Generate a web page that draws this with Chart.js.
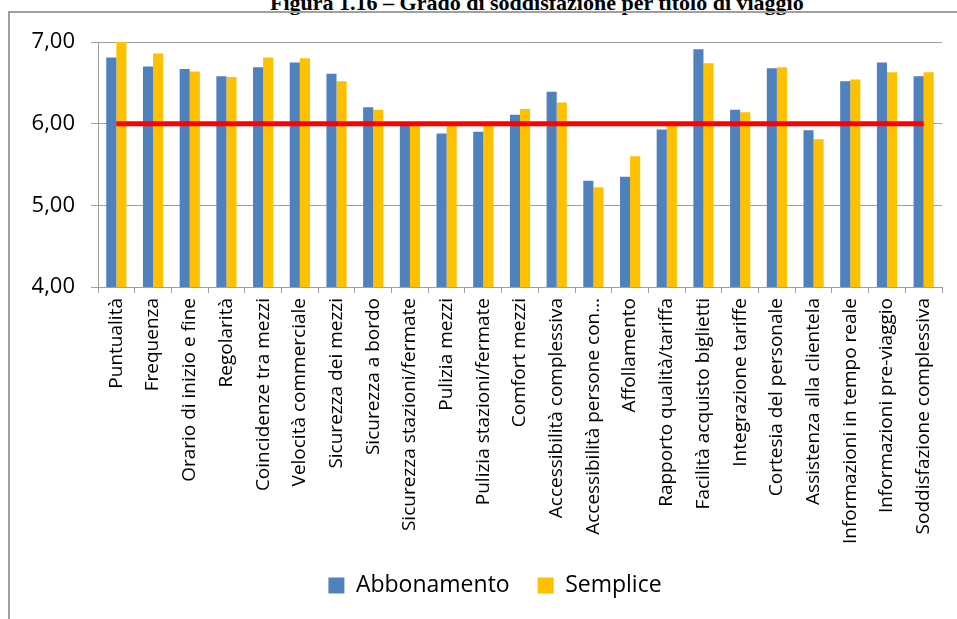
<!DOCTYPE html>
<html lang="it">
<head>
<meta charset="utf-8">
<title>Grado di soddisfazione per titolo di viaggio</title>
<script src="https://cdn.jsdelivr.net/npm/chart.js@4.4.1/dist/chart.umd.min.js"></script>
<style>
  html, body { margin: 0; padding: 0; background: #fff; overflow: hidden; }
  #pagina { position: relative; width: 957px; height: 619px; }
  #titolo {
    position: absolute; left: 270px; top: -8px; white-space: nowrap;
    font: bold 22px "Liberation Serif", "Times New Roman", serif; line-height: 22px; color: #000;
  }
  #cornice {
    position: absolute; left: 8px; top: 11px; width: 1000px; height: 700px;
    border: 2px solid #a0a0a0; box-sizing: border-box;
  }
  #grafico { position: absolute; left: 0; top: 0; }
</style>
</head>
<body>
<div id="pagina">
  <div id="titolo">Figura 1.16 – Grado di soddisfazione per titolo di viaggio</div>
  <div id="cornice"></div>
  <canvas id="grafico" width="957" height="619"></canvas>
</div>
<script>
// ── Dati ──
const categorie = [
  "Puntualità", "Frequenza", "Orario di inizio e fine", "Regolarità",
  "Coincidenze tra mezzi", "Velocità commerciale", "Sicurezza dei mezzi",
  "Sicurezza a bordo", "Sicurezza stazioni/fermate", "Pulizia mezzi",
  "Pulizia stazioni/fermate", "Comfort mezzi", "Accessibilità complessiva",
  "Accessibilità persone con…", "Affollamento", "Rapporto qualità/tariffa",
  "Facilità acquisto biglietti", "Integrazione tariffe", "Cortesia del personale",
  "Assistenza alla clientela", "Informazioni in tempo reale",
  "Informazioni pre-viaggio", "Soddisfazione complessiva"
];
const abbonamento = [
  6.81, 6.70, 6.67, 6.58, 6.69, 6.75, 6.61, 6.20, 5.99, 5.88, 5.90, 6.11,
  6.39, 5.30, 5.35, 5.93, 6.91, 6.17, 6.68, 5.92, 6.52, 6.75, 6.58
];
const semplice = [
  7.00, 6.86, 6.64, 6.57, 6.81, 6.80, 6.52, 6.17, 5.99, 5.99, 5.99, 6.18,
  6.26, 5.22, 5.60, 6.00, 6.74, 6.14, 6.69, 5.81, 6.54, 6.63, 6.63
];
const soglia = [
  6, 6, 6, 6, 6, 6, 6, 6, 6, 6, 6, 6, 6, 6, 6, 6, 6, 6, 6, 6, 6, 6, 6
];
const tickY = [4, 5, 6, 7];

const grigio = "#a0a0a0";
const font = "'Open Sans', sans-serif";

// la legenda dell'originale è un po' spostata a destra
const spostaLegenda = {
  id: "spostaLegenda",
  afterLayout(chart) {
    chart.legend.left += 14;
    chart.legend.right += 14;
  },
};

new Chart(document.getElementById("grafico").getContext("2d"), {
  type: "bar",
  data: {
    labels: categorie,
    datasets: [
      {
        type: "line",
        label: "Soglia",
        data: soglia,
        borderColor: "#ff0000",
        borderWidth: 5,
        pointRadius: 0,
        fill: false,
        order: 0,
      },
      {
        label: "Abbonamento",
        data: abbonamento,
        backgroundColor: "#4f81bd",
        borderWidth: 0,
        barPercentage: 1,
        categoryPercentage: 0.55,
        order: 1,
      },
      {
        label: "Semplice",
        data: semplice,
        backgroundColor: "#ffc000",
        borderWidth: 0,
        barPercentage: 1,
        categoryPercentage: 0.55,
        order: 1,
      },
    ],
  },
  plugins: [spostaLegenda],
  options: {
    responsive: false,
    animation: false,
    layout: { padding: { left: 20, right: 15, top: 42, bottom: 12 } },
    plugins: {
      tooltip: { enabled: false },
      legend: {
        position: "bottom",
        labels: {
          filter: (item) => item.text !== "Soglia",
          boxWidth: 16,
          boxHeight: 16,
          padding: 28,
          color: "#000",
          font: { family: font, size: 23 },
        },
      },
    },
    scales: {
      y: {
        min: 4,
        max: 7,
        afterFit: (scale) => { scale.width = 78; },
        afterBuildTicks: (scale) => { scale.ticks = tickY.map((v) => ({ value: v })); },
        ticks: {
          padding: 16,
          color: "#000",
          font: { family: font, size: 22 },
          callback: (v) => v.toFixed(2).replace(".", ","),
        },
        grid: { color: grigio, lineWidth: 1, tickLength: 7 },
        border: { color: grigio, width: 1 },
      },
      x: {
        afterFit: (scale) => { scale.height = 259; },
        ticks: {
          autoSkip: false,
          minRotation: 90,
          maxRotation: 90,
          padding: 5,
          color: "#000",
          font: { family: font, size: 19 },
        },
        grid: { drawOnChartArea: false, color: grigio, tickLength: 6, offset: true },
        border: { color: grigio, width: 1 },
      },
    },
  },
});
</script>
</body>
</html>
